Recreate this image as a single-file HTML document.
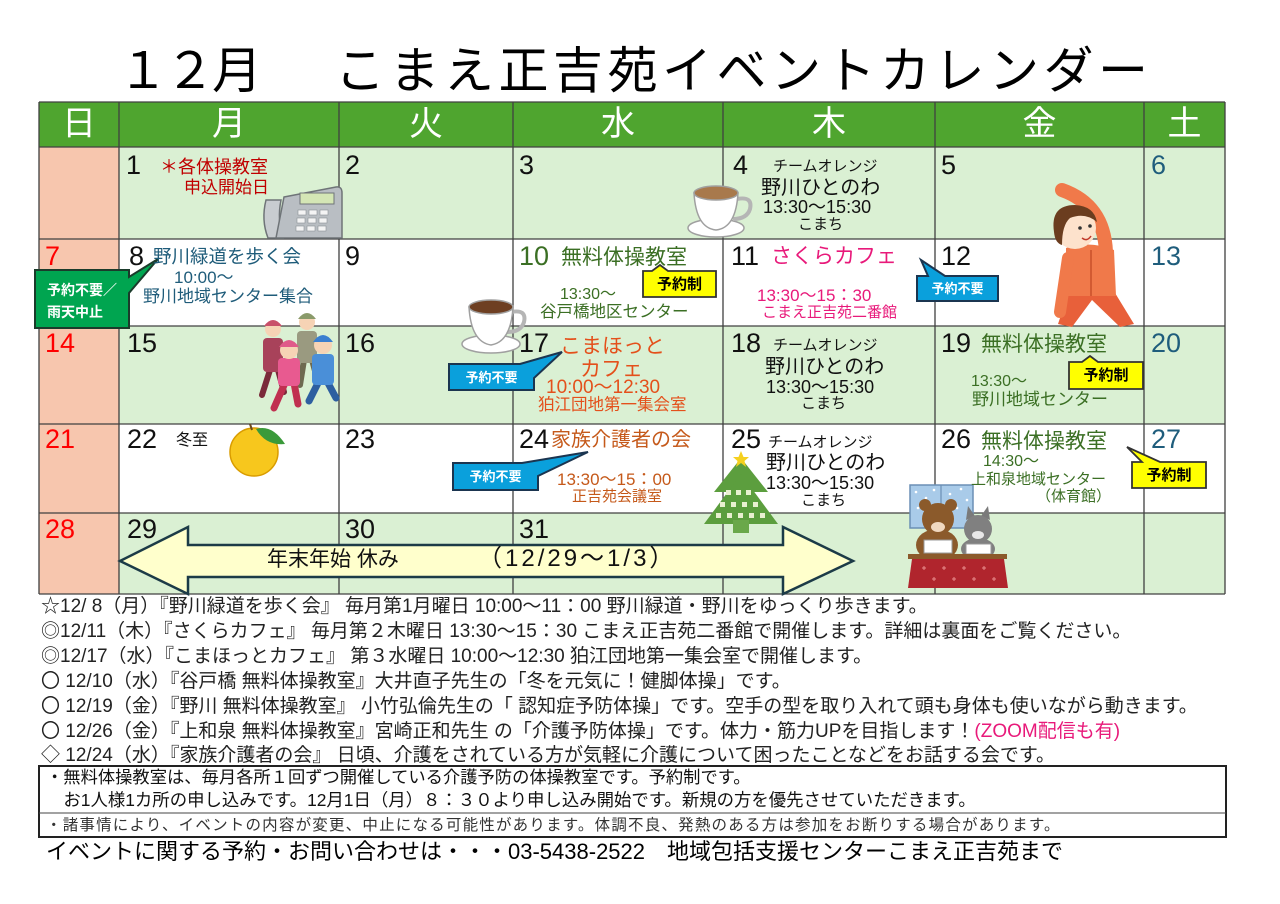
<!DOCTYPE html>
<html lang="ja">
<head>
<meta charset="utf-8">
<style>
  html,body{margin:0;padding:0;background:#fff;}
  #c{position:relative;width:1280px;height:904px;overflow:hidden;background:#fff;
     font-family:"Liberation Sans","Noto Sans CJK JP",sans-serif;}
  #c svg{position:absolute;left:0;top:0;}
  .t{position:absolute;white-space:nowrap;line-height:1;color:#111;
     font-family:"Liberation Sans","Noto Sans CJK JP",sans-serif;}
  .n{font-size:27px;}
  .h{font-size:34px;color:#fff;text-align:center;top:107px;}
  .red{color:#ff0000;}
  .sat{color:#1f5d7c;}
  .bl{color:#1f5c7a;}
  .gr{color:#3b6f24;}
  .pk{color:#e8197a;}
  .or{color:#e4501b;}
  .br{color:#c5591a;}
  .cw{color:#fff;font-weight:bold;font-size:13px;text-align:center;}
  .cy{color:#000;font-weight:bold;font-size:15px;text-align:center;}
  .fn{font-size:19px;color:#222;left:41px;}
</style>
</head>
<body>
<div id="c">
<svg width="1280" height="904" viewBox="0 0 1280 904" xmlns="http://www.w3.org/2000/svg">
  <!-- backgrounds -->
  <rect x="39" y="102" width="1186" height="45" fill="#4fa52f"/>
  <rect x="39" y="147" width="80" height="447" fill="#f7c6ae"/>
  <rect x="119" y="147" width="1106" height="92" fill="#daf0d3"/>
  <rect x="119" y="326" width="1106" height="98" fill="#daf0d3"/>
  <rect x="119" y="513" width="1106" height="81" fill="#daf0d3"/>
  <!-- grid lines -->
  <g stroke="#404040" stroke-width="1.3">
    <line x1="39" y1="102" x2="1225" y2="102"/>
    <line x1="39" y1="147" x2="1225" y2="147"/>
    <line x1="39" y1="239" x2="1225" y2="239"/>
    <line x1="39" y1="326" x2="1225" y2="326"/>
    <line x1="39" y1="424" x2="1225" y2="424"/>
    <line x1="39" y1="513" x2="1225" y2="513"/>
    <line x1="39" y1="594" x2="1225" y2="594"/>
    <line x1="39" y1="102" x2="39" y2="594"/>
    <line x1="119" y1="102" x2="119" y2="594"/>
    <line x1="339" y1="102" x2="339" y2="594"/>
    <line x1="513" y1="102" x2="513" y2="594"/>
    <line x1="723" y1="102" x2="723" y2="594"/>
    <line x1="935" y1="102" x2="935" y2="594"/>
    <line x1="1144" y1="102" x2="1144" y2="594"/>
    <line x1="1225" y1="102" x2="1225" y2="594"/>
  </g>

  <!-- phone -->
  <path d="M266,200 Q261,220 268,238 L283,238 Q277,220 281,200 Z" fill="#c8ccd0" stroke="#6f7478" stroke-width="1.5"/>
  <path d="M284,197 L336,187 Q342,186 342,193 L342,238 L276,238 Z" fill="#b9bec3" stroke="#6f7478" stroke-width="1.5"/>
  <rect x="300" y="193" width="34" height="11" fill="#d4e6b5" stroke="#6f7478"/>
  <g fill="#f4f4f4" stroke="#8a8f94" stroke-width="0.6">
    <rect x="298" y="210" width="8" height="5"/><rect x="309" y="210" width="8" height="5"/><rect x="320" y="210" width="8" height="5"/>
    <rect x="297" y="218" width="8" height="5"/><rect x="308" y="218" width="8" height="5"/><rect x="319" y="218" width="8" height="5"/>
    <rect x="296" y="226" width="8" height="5"/><rect x="307" y="226" width="8" height="5"/><rect x="318" y="226" width="8" height="5"/>
  </g>

  <!-- cup 1 -->
  <ellipse cx="716" cy="228" rx="28" ry="9" fill="#fff" stroke="#a0a0a0" stroke-width="1.5"/>
  <path d="M737,199 Q753,196 750,209 Q747,219 733,219" fill="none" stroke="#b5b5b5" stroke-width="4"/>
  <path d="M694,193 Q696,228 716,230 Q736,228 738,193 Z" fill="#fff" stroke="#a0a0a0" stroke-width="1.5"/>
  <ellipse cx="716" cy="193" rx="22" ry="7" fill="#a8794c" stroke="#a0a0a0" stroke-width="1.5"/>

  <!-- cup 2 -->
  <ellipse cx="491" cy="344" rx="29" ry="9" fill="#fff" stroke="#a0a0a0" stroke-width="1.5"/>
  <path d="M511,312 Q527,309 524,322 Q521,332 507,332" fill="none" stroke="#b5b5b5" stroke-width="4"/>
  <path d="M469,307 Q471,342 491,345 Q511,342 513,307 Z" fill="#fff" stroke="#a0a0a0" stroke-width="1.5"/>
  <ellipse cx="491" cy="307" rx="22" ry="7" fill="#6e3f22" stroke="#a0a0a0" stroke-width="1.5"/>

  <!-- woman stretching -->
  <path d="M1070,288 L1112,288 L1134,324 L1120,327 L1092,300 L1072,327 L1058,324 Z" fill="#e8603a"/>
  <path d="M1066,248 Q1090,240 1114,250 L1116,296 L1066,296 Z" fill="#f0794a"/>
  <path d="M1106,252 Q1104,205 1062,190" fill="none" stroke="#f0794a" stroke-width="14" stroke-linecap="round"/>
  <path d="M1068,258 L1060,312" fill="none" stroke="#f0794a" stroke-width="12" stroke-linecap="round"/>
  <line x1="1091" y1="250" x2="1091" y2="296" stroke="#c8502a" stroke-width="1.5"/>
  <circle cx="1075" cy="228" r="21" fill="#fde2cc"/>
  <path d="M1054,232 Q1050,205 1075,205 Q1094,206 1097,222 Q1085,212 1070,218 Q1062,225 1062,245 Q1055,243 1054,232 Z" fill="#6b3d1f"/>
  <circle cx="1080" cy="228" r="1.8" fill="#333"/><circle cx="1090" cy="226" r="1.8" fill="#333"/>
  <path d="M1082,238 Q1087,242 1091,236" fill="none" stroke="#c0392b" stroke-width="1.5"/>

  <!-- walkers -->
  <g stroke-linecap="round">
    <line x1="270" y1="370" x2="262" y2="395" stroke="#7a2a3a" stroke-width="6"/>
    <line x1="278" y1="370" x2="284" y2="392" stroke="#7a2a3a" stroke-width="6"/>
    <rect x="263" y="338" width="20" height="34" rx="4" fill="#a8425a"/>
    <circle cx="273" cy="329" r="8" fill="#f6d3b5"/>
    <path d="M264,326 Q273,314 282,326 Z" fill="#c9506a"/>
    <line x1="304" y1="360" x2="300" y2="385" stroke="#6e6a50" stroke-width="6"/>
    <line x1="312" y1="360" x2="318" y2="382" stroke="#6e6a50" stroke-width="6"/>
    <rect x="297" y="331" width="20" height="32" rx="4" fill="#9a9a80"/>
    <circle cx="307" cy="322" r="8" fill="#f6d3b5"/>
    <path d="M298,319 Q307,307 316,319 Z" fill="#8a9a6a"/>
    <line x1="285" y1="383" x2="274" y2="408" stroke="#c03050" stroke-width="7"/>
    <line x1="294" y1="383" x2="298" y2="404" stroke="#c03050" stroke-width="7"/>
    <rect x="278" y="358" width="22" height="28" rx="4" fill="#e85a90"/>
    <circle cx="289" cy="350" r="9" fill="#f6d3b5"/>
    <path d="M279,347 Q289,333 299,347 Z" fill="#e05a8a"/>
    <line x1="318" y1="383" x2="309" y2="401" stroke="#2e5fa0" stroke-width="7"/>
    <line x1="328" y1="383" x2="336" y2="398" stroke="#2e5fa0" stroke-width="7"/>
    <rect x="312" y="354" width="22" height="31" rx="4" fill="#4a8fd8"/>
    <circle cx="323" cy="345" r="9" fill="#f6d3b5"/>
    <path d="M313,342 Q323,328 333,342 Z" fill="#3a7fd0"/>
  </g>

  <!-- yuzu -->
  <circle cx="254" cy="452" r="24" fill="#f7c71d" stroke="#d99c00" stroke-width="1.5"/>
  <line x1="252" y1="430" x2="250" y2="424" stroke="#6b4a1f" stroke-width="2"/>
  <path d="M256,429 Q272,424 285,444 Q266,446 256,429 Z" fill="#3a9a3a"/>

  <!-- tree -->
  <polygon points="741,458 768,492 714,492" fill="#5c9e3e"/>
  <polygon points="741,474 778,524 704,524" fill="#5c9e3e"/>
  <rect x="733" y="520" width="16" height="13" fill="#6aa84a"/>
  <g fill="#e9f0d0">
    <rect x="726" y="490" width="5" height="5"/><rect x="736" y="490" width="5" height="5"/><rect x="746" y="490" width="5" height="5"/>
    <rect x="720" y="502" width="5" height="5"/><rect x="731" y="502" width="5" height="5"/><rect x="742" y="502" width="5" height="5"/><rect x="753" y="502" width="5" height="5"/>
    <rect x="716" y="513" width="5" height="5"/><rect x="727" y="513" width="5" height="5"/><rect x="738" y="513" width="5" height="5"/><rect x="749" y="513" width="5" height="5"/><rect x="760" y="513" width="5" height="5"/>
  </g>
  <polygon points="741,451 743.5,457 749,457 744.5,461 746,467 741,463 736,467 737.5,461 733,457 738.5,457" fill="#f5d020"/>

  <!-- holiday arrow -->
  <polygon points="120,561 188,527 188,545 783,545 783,527 853,561 783,594 783,577 188,577 188,594" fill="#ffffcc" stroke="#1c3b47" stroke-width="2.5" stroke-linejoin="miter"/>

  <!-- kotatsu -->
  <rect x="910" y="485" width="63" height="43" fill="#a9cbe9" stroke="#6b8fb5" stroke-width="1.5"/>
  <line x1="941" y1="485" x2="941" y2="528" stroke="#6b8fb5" stroke-width="1.2"/>
  <g fill="#fff">
    <circle cx="916" cy="492" r="1.3"/><circle cx="926" cy="498" r="1.3"/><circle cx="934" cy="490" r="1.3"/>
    <circle cx="950" cy="494" r="1.3"/><circle cx="961" cy="489" r="1.3"/><circle cx="967" cy="500" r="1.3"/>
    <circle cx="918" cy="508" r="1.3"/><circle cx="957" cy="508" r="1.3"/><circle cx="968" cy="517" r="1.3"/>
  </g>
  <ellipse cx="937" cy="545" rx="21" ry="16" fill="#8b5a2b"/>
  <circle cx="925" cy="505" r="6" fill="#8b5a2b"/><circle cx="951" cy="505" r="6" fill="#8b5a2b"/>
  <circle cx="938" cy="519" r="16" fill="#8b5a2b"/>
  <ellipse cx="938" cy="527" rx="7" ry="5" fill="#f0d8c0"/>
  <polygon points="966,520 968,506 975,516" fill="#7a7a7a"/><polygon points="990,520 988,506 981,516" fill="#7a7a7a"/>
  <ellipse cx="978" cy="549" rx="17" ry="11" fill="#808080"/>
  <circle cx="978" cy="529" r="14" fill="#808080"/>
  <ellipse cx="978" cy="535" rx="6" ry="4" fill="#e8e8e8"/>
  <rect x="924" y="540" width="28" height="13" fill="#fff" stroke="#999"/>
  <rect x="966" y="544" width="25" height="10" fill="#fff" stroke="#999"/>
  <rect x="908" y="554" width="99" height="5" fill="#8b5a2b"/>
  <path d="M912,559 L1004,559 L1008,588 L908,588 Z" fill="#b0252d"/>
  <g stroke="#e88a8a" stroke-width="1">
    <path d="M922,568 h4 M924,566 v4 M942,568 h4 M944,566 v4 M962,568 h4 M964,566 v4 M982,568 h4 M984,566 v4 M932,579 h4 M934,577 v4 M952,579 h4 M954,577 v4 M972,579 h4 M974,577 v4 M992,579 h4 M994,577 v4"/>
  </g>

  <!-- callouts -->
  <path d="M35,270 H129 V277 L158,259 L129,293 V328 H35 Z" fill="#00a550" stroke="#1b3b2b" stroke-width="2"/>
  <path d="M917,276 H928 L921,260 L945,276 H998 V301 H917 Z" fill="#0aa0dc" stroke="#1b3550" stroke-width="2"/>
  <path d="M449,364 H520 L562,352 L534,378 V390 H449 Z" fill="#0aa0dc" stroke="#1b3550" stroke-width="2"/>
  <path d="M453,463 H522 L588,452 L538,476 V490 H453 Z" fill="#0aa0dc" stroke="#1b3550" stroke-width="2"/>
  <path d="M643,271 H652 L660,265 L668,271 H716 V297 H643 Z" fill="#ffff00" stroke="#333" stroke-width="1.8"/>
  <path d="M1069,362 H1082 L1090,356 L1098,362 H1143 V389 H1069 Z" fill="#ffff00" stroke="#333" stroke-width="1.8"/>
  <path d="M1132,462 H1142 L1127,447 L1160,462 H1206 V488 H1132 Z" fill="#ffff00" stroke="#333" stroke-width="1.8"/>

  <!-- notes box -->
  <rect x="39" y="766" width="1187" height="71" fill="none" stroke="#222" stroke-width="2"/>
  <line x1="39" y1="813" x2="1226" y2="813" stroke="#444" stroke-width="1"/>
</svg>

<!-- title -->
<div class="t" style="left:118px;top:46px;font-size:50px;letter-spacing:-3px;color:#000;">１２月</div>
<div class="t" style="left:335px;top:46px;font-size:50px;letter-spacing:4.5px;color:#000;">こまえ正吉苑イベントカレンダー</div>

<!-- header -->
<div class="t h" style="left:39px;width:80px;">日</div>
<div class="t h" style="left:119px;width:220px;">月</div>
<div class="t h" style="left:339px;width:174px;">火</div>
<div class="t h" style="left:513px;width:210px;">水</div>
<div class="t h" style="left:723px;width:212px;">木</div>
<div class="t h" style="left:935px;width:209px;">金</div>
<div class="t h" style="left:1144px;width:81px;">土</div>

<!-- day numbers -->
<div class="t n" style="left:126px;top:152px;">1</div>
<div class="t n" style="left:345px;top:152px;">2</div>
<div class="t n" style="left:519px;top:152px;">3</div>
<div class="t n" style="left:733px;top:152px;">4</div>
<div class="t n" style="left:941px;top:152px;">5</div>
<div class="t n sat" style="left:1151px;top:152px;">6</div>

<div class="t n red" style="left:45px;top:243px;">7</div>
<div class="t n" style="left:129px;top:243px;">8</div>
<div class="t n" style="left:345px;top:243px;">9</div>
<div class="t n gr" style="left:519px;top:243px;">10</div>
<div class="t n" style="left:731px;top:243px;">11</div>
<div class="t n" style="left:941px;top:243px;">12</div>
<div class="t n sat" style="left:1151px;top:243px;">13</div>

<div class="t n red" style="left:45px;top:330px;">14</div>
<div class="t n" style="left:127px;top:330px;">15</div>
<div class="t n" style="left:345px;top:330px;">16</div>
<div class="t n" style="left:519px;top:330px;">17</div>
<div class="t n" style="left:731px;top:330px;">18</div>
<div class="t n" style="left:941px;top:330px;">19</div>
<div class="t n sat" style="left:1151px;top:330px;">20</div>

<div class="t n red" style="left:45px;top:426px;">21</div>
<div class="t n" style="left:127px;top:426px;">22</div>
<div class="t n" style="left:345px;top:426px;">23</div>
<div class="t n" style="left:519px;top:426px;">24</div>
<div class="t n" style="left:731px;top:426px;">25</div>
<div class="t n" style="left:941px;top:426px;">26</div>
<div class="t n sat" style="left:1151px;top:426px;">27</div>

<div class="t n red" style="left:45px;top:516px;">28</div>
<div class="t n" style="left:127px;top:516px;">29</div>
<div class="t n" style="left:345px;top:516px;">30</div>
<div class="t n" style="left:519px;top:516px;">31</div>

<!-- row 1 events -->
<div class="t" style="left:160px;top:158px;font-size:18px;color:#c00000;">＊各体操教室</div>
<div class="t" style="left:184px;top:179px;font-size:17px;color:#c00000;">申込開始日</div>
<div class="t" style="left:773px;top:159px;font-size:15px;">チームオレンジ</div>
<div class="t" style="left:761px;top:178px;font-size:20px;">野川ひとのわ</div>
<div class="t" style="left:763px;top:198px;font-size:18px;">13:30～15:30</div>
<div class="t" style="left:798px;top:217px;font-size:15px;">こまち</div>

<!-- row 2 events -->
<div class="t bl" style="left:153px;top:248px;font-size:18.5px;">野川緑道を歩く会</div>
<div class="t bl" style="left:174px;top:269px;font-size:17px;">10:00～</div>
<div class="t bl" style="left:143px;top:288px;font-size:17px;">野川地域センター集合</div>
<div class="t gr" style="left:561px;top:247px;font-size:21px;">無料体操教室</div>
<div class="t gr" style="left:560px;top:287px;font-size:16px;">13:30～</div>
<div class="t gr" style="left:540px;top:304px;font-size:16.5px;">谷戸橋地区センター</div>
<div class="t pk" style="left:771px;top:246px;font-size:21px;">さくらカフェ</div>
<div class="t pk" style="left:757px;top:287px;font-size:17px;">13:30～15：30</div>
<div class="t pk" style="left:762px;top:305px;font-size:15px;">こまえ正吉苑二番館</div>

<!-- row 3 events -->
<div class="t or" style="left:560px;top:336px;font-size:21px;">こまほっと</div>
<div class="t or" style="left:580px;top:359px;font-size:21px;">カフェ</div>
<div class="t or" style="left:546px;top:378px;font-size:19px;">10:00～12:30</div>
<div class="t or" style="left:538px;top:397px;font-size:16.5px;">狛江団地第一集会室</div>
<div class="t" style="left:773px;top:338px;font-size:15px;">チームオレンジ</div>
<div class="t" style="left:765px;top:357px;font-size:20px;">野川ひとのわ</div>
<div class="t" style="left:766px;top:378px;font-size:18px;">13:30～15:30</div>
<div class="t" style="left:801px;top:396px;font-size:15px;">こまち</div>
<div class="t gr" style="left:981px;top:334px;font-size:21px;">無料体操教室</div>
<div class="t gr" style="left:971px;top:374px;font-size:16px;">13:30～</div>
<div class="t gr" style="left:972px;top:391px;font-size:17px;">野川地域センター</div>

<!-- row 4 events -->
<div class="t" style="left:176px;top:433px;font-size:16px;">冬至</div>
<div class="t br" style="left:551px;top:430px;font-size:20px;">家族介護者の会</div>
<div class="t br" style="left:557px;top:471px;font-size:17px;">13:30～15：00</div>
<div class="t br" style="left:572px;top:489px;font-size:15px;">正吉苑会議室</div>
<div class="t" style="left:768px;top:435px;font-size:15px;">チームオレンジ</div>
<div class="t" style="left:766px;top:453px;font-size:20px;">野川ひとのわ</div>
<div class="t" style="left:766px;top:474px;font-size:18px;">13:30～15:30</div>
<div class="t" style="left:801px;top:493px;font-size:15px;">こまち</div>
<div class="t gr" style="left:981px;top:431px;font-size:21px;">無料体操教室</div>
<div class="t gr" style="left:983px;top:454px;font-size:16px;">14:30～</div>
<div class="t gr" style="left:971px;top:472px;font-size:15px;">上和泉地域センター</div>
<div class="t gr" style="left:1036px;top:489px;font-size:15px;">（体育館）</div>

<!-- holiday text -->
<div class="t" style="left:267px;top:549px;font-size:21px;">年末年始 休み</div>
<div class="t" style="left:478px;top:547px;font-size:24px;letter-spacing:3px;">（12/29～1/3）</div>

<!-- callout texts -->
<div class="t cw" style="left:47px;top:283px;font-size:14px;text-align:left;">予約不要／</div>
<div class="t cw" style="left:47px;top:305px;font-size:14px;text-align:left;">雨天中止</div>
<div class="t cw" style="left:917px;top:282px;width:81px;">予約不要</div>
<div class="t cw" style="left:449px;top:371px;width:85px;">予約不要</div>
<div class="t cw" style="left:453px;top:470px;width:85px;">予約不要</div>
<div class="t cy" style="left:643px;top:277px;width:73px;">予約制</div>
<div class="t cy" style="left:1069px;top:368px;width:74px;">予約制</div>
<div class="t cy" style="left:1132px;top:468px;width:74px;">予約制</div>

<!-- footnotes -->
<div class="t fn" style="top:597px;">☆12/ 8（月）『野川緑道を歩く会』 毎月第1月曜日 10:00～11：00 野川緑道・野川をゆっくり歩きます。</div>
<div class="t fn" style="top:622px;">◎12/11（木）『さくらカフェ』 毎月第２木曜日 13:30～15：30 こまえ正吉苑二番館で開催します。詳細は裏面をご覧ください。</div>
<div class="t fn" style="top:647px;">◎12/17（水）『こまほっとカフェ』 第３水曜日 10:00～12:30 狛江団地第一集会室で開催します。</div>
<div class="t fn" style="top:672px;">〇 12/10（水）『谷戸橋 無料体操教室』大井直子先生の「冬を元気に！健脚体操」です。</div>
<div class="t fn" style="top:697px;">〇 12/19（金）『野川 無料体操教室』 小竹弘倫先生の「 認知症予防体操」です。空手の型を取り入れて頭も身体も使いながら動きます。</div>
<div class="t fn" style="top:722px;">〇 12/26（金）『上和泉 無料体操教室』宮崎正和先生 の「介護予防体操」です。体力・筋力UPを目指します！<span style="color:#e8197a;">(ZOOM配信も有)</span></div>
<div class="t fn" style="top:746px;">◇ 12/24（水）『家族介護者の会』 日頃、介護をされている方が気軽に介護について困ったことなどをお話する会です。</div>

<!-- notes box text -->
<div class="t" style="left:46px;top:769px;font-size:17.3px;">・無料体操教室は、毎月各所１回ずつ開催している介護予防の体操教室です。予約制です。</div>
<div class="t" style="left:46px;top:792px;font-size:17.4px;">　お1人様1カ所の申し込みです。12月1日（月）８：３０より申し込み開始です。新規の方を優先させていただきます。</div>
<div class="t" style="left:46px;top:818px;font-size:15.5px;letter-spacing:1.2px;color:#333;">・諸事情により、イベントの内容が変更、中止になる可能性があります。体調不良、発熱のある方は参加をお断りする場合があります。</div>

<!-- contact -->
<div class="t" style="left:46px;top:841px;font-size:22px;color:#000;">イベントに関する予約・お問い合わせは・・・03-5438-2522　地域包括支援センターこまえ正吉苑まで</div>
</div>
</body>
</html>
